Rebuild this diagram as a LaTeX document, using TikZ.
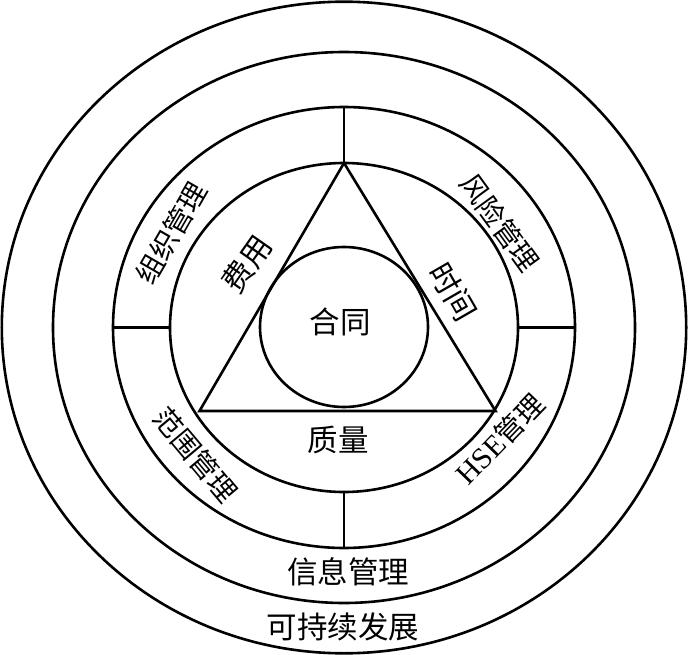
\documentclass[tikz,border=0pt]{standalone}
\usepackage{fontspec}
\setmainfont{Liberation Serif}
\newfontfamily\cjk{Noto Sans CJK SC}
\begin{document}
\begin{tikzpicture}[x=1pt,y=-1pt,
  ring/.style={draw=black,line width=2.6pt},
  lbl/.style={font=\cjk\fontsize{30.5}{30.5}\selectfont,inner sep=0pt},
  arclbl/.style={font=\cjk\fontsize{28}{28}\selectfont,inner sep=0pt}]
\useasboundingbox (0,0) rectangle (688,655);
\coordinate (O) at (344,327.5);
% concentric rings
\draw[ring] (O) ellipse [x radius=342.2pt, y radius=325.8pt];
\draw[ring] (O) ellipse [x radius=291pt, y radius=275.5pt];
\draw[ring] (O) ellipse [x radius=231pt, y radius=220.5pt];
\draw[ring] (O) ellipse [x radius=174pt, y radius=164.5pt];
\draw[ring] (344,327) ellipse [x radius=84pt, y radius=80pt];
% dividers in the management ring
\coordinate (t1) at (344,107); \coordinate (t2) at (344,163);
\coordinate (b1) at (344,492); \coordinate (b2) at (344,548);
\coordinate (l1) at (113,327.5); \coordinate (l2) at (170,327.5);
\coordinate (r1) at (518,327.5); \coordinate (r2) at (575,327.5);
\draw[ring] (t1) -- (t2);
\draw[ring] (b1) -- (b2);
\draw[ring] (l1) -- (l2);
\draw[ring] (r1) -- (r2);
% triangle
\coordinate (A) at (344,163);
\coordinate (B) at (199.5,411);
\coordinate (C) at (495.5,411);
\draw[ring,line join=miter] (A) -- (B) -- (C) -- cycle;
% labels
\node[lbl] (hetong) at (340,322) {合同};
\node[lbl,rotate=55] (feiyong) at (247,264) {费用};
\node[lbl,rotate=-60] (shijian) at (453,292) {时间};
\node[lbl] (zhiliang) at (338,440) {质量};
\node[arclbl,rotate=60] (zuzhi) at (171,233) {组织管理};
\node[arclbl,rotate=-54] (fengxian) at (500,223) {风险管理};
\node[arclbl,rotate=-50] (fanwei) at (196,455) {范围管理};
\node[arclbl,rotate=46] (hse) at (500,439) {{\rmfamily\fontsize{30}{30}\selectfont HSE}管理};
\node[lbl] (xinxi) at (348,572) {信息管理};
\node[lbl] (kechixu) at (343,627) {可持续发展};
\end{tikzpicture}
\end{document}
